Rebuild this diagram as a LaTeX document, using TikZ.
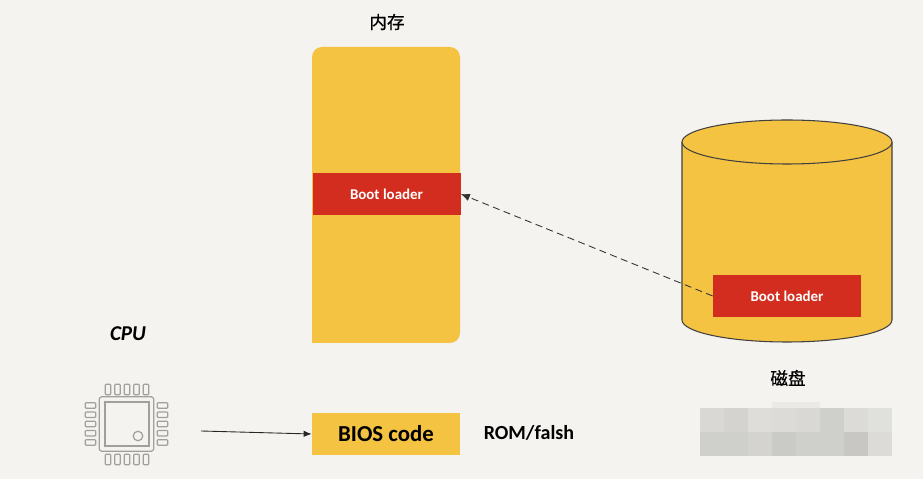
\documentclass[tikz,border=0pt]{standalone}
\usepackage{fontspec}
\setmainfont{Carlito}
\newfontfamily\cjkfont[FakeBold=0.5]{Noto Sans CJK SC}
\usetikzlibrary{arrows.meta,positioning}
\definecolor{Paper}{HTML}{F4F3EF}
\definecolor{Amber}{HTML}{F5C342}
\definecolor{Brick}{HTML}{D22D1F}
\definecolor{ChipGray}{HTML}{A0A09D}
\tikzset{
  redbar/.style={fill=Brick,text=white,minimum width=2.96cm,minimum height=0.84cm,inner sep=0pt,font=\fontsize{8.5}{10}\selectfont\bfseries},
  chippin/.style={draw=ChipGray,line width=0.7pt,rounded corners=0.5pt,inner sep=0pt},
  caption/.style={inner sep=0pt,font=\fontsize{11.4}{13}\selectfont\bfseries}
}
\begin{document}
\begin{tikzpicture}[>=Latex]
    \fill[Paper] (0,0) rectangle (18.46,9.58);
    % memory
    \fill[Amber] (6.24,2.72) [rounded corners=0.2cm] -- (6.24,8.64) -- (9.2,8.64) -- (9.2,2.72) [sharp corners] -- cycle;
    \node[redbar] (bootmem) at (7.73,5.7) {Boot loader};
    \node[caption,font=\fontsize{10}{12}\selectfont\cjkfont] (memlabel) at (7.74,9.14) {内存};
    % disk
    \draw[fill=Amber,draw=black!75,line width=0.6pt] (13.64,6.74) -- (13.64,3.18) arc (180:360:2.1 and 0.44) -- (17.84,6.74);
    \draw[fill=Amber,draw=black!75,line width=0.6pt] (15.74,6.74) ellipse (2.1 and 0.44);
    \node[redbar] (bootdisk) at (15.74,3.66) {Boot loader};
    \node[caption,font=\fontsize{10}{12}\selectfont\cjkfont] (disklabel) at (15.76,2.02) {磁盘};
    % pixelated patch under the disk
    \foreach \c [count=\i from 0] in {11,13,9,10,11,15,10,8}
      \fill[black!\c!Paper] (14+0.48*\i,0.94) rectangle +(0.48,0.48);
    \foreach \c [count=\i from 0] in {15,15,13,17,15,15,18,10}
      \fill[black!\c!Paper] (14+0.48*\i,0.46) rectangle +(0.48,0.48);
    \fill[black!4!Paper] (15.44,1.42) rectangle +(0.96,0.12);
    % rom
    \node[fill=Amber,minimum width=2.96cm,minimum height=0.84cm,inner sep=0pt,font=\fontsize{13}{15}\selectfont\bfseries] (bios) at (7.72,0.9) {BIOS code};
    \node[caption] (romlabel) at (10.58,0.92) {ROM/falsh};
    % cpu
    \node[caption,font=\fontsize{12}{14}\selectfont\bfseries\itshape] (cpulabel) at (2.56,2.9) {CPU};
    \node[draw=ChipGray,line width=0.7pt,rounded corners=1.5pt,minimum size=1.09cm,inner sep=0pt] (chip) at (2.53,1.1) {};
    \node[draw=ChipGray,line width=0.7pt,minimum size=0.88cm,inner sep=0pt] (chipcore) at (2.54,1.1) {};
    \node[draw=ChipGray,line width=0.7pt,circle,minimum size=0.19cm,inner sep=0pt] (chipdot) at (2.76,0.86) {};
    \foreach \i in {-2,...,2} {
      \node[chippin,minimum width=0.11cm,minimum height=0.21cm] (pintop\i) at (2.54+0.19*\i,1.79) {};
      \node[chippin,minimum width=0.11cm,minimum height=0.21cm] (pinbot\i) at (2.54+0.19*\i,0.39) {};
      \node[chippin,minimum width=0.21cm,minimum height=0.11cm] (pinleft\i) at (1.81,1.1+0.185*\i) {};
      \node[chippin,minimum width=0.21cm,minimum height=0.11cm] (pinright\i) at (3.25,1.1+0.185*\i) {};
    }
    % arrows
    \coordinate (cpuout) at (4.02,0.96);
    \draw[-{Latex[length=1.6mm,width=1.3mm]},line width=0.5pt,draw=black!85] (cpuout) -- (bios.west);
    \draw[-{Latex[length=1.8mm,width=1.5mm]},line width=0.5pt,draw=black!80,dash pattern=on 0.14cm off 0.09cm] (bootdisk.west) -- (bootmem.east);
  \end{tikzpicture}
\end{document}
